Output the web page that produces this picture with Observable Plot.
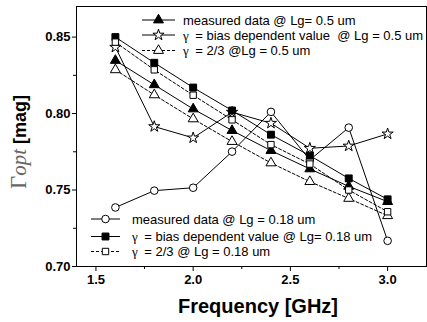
<!DOCTYPE html>
<html><head><meta charset="utf-8">
<script src="https://cdn.jsdelivr.net/npm/d3@7"></script>
<script src="https://cdn.jsdelivr.net/npm/@observablehq/plot@0.6"></script>
<style>body{margin:0;background:#fff}</style>
</head><body><div id="chart"></div>
<script>
const freq = [1.6, 1.8, 2.0, 2.2, 2.4, 2.6, 2.8, 3.0];
const measured05 = [0.8347, 0.8188, 0.8030, 0.7889, 0.7758, 0.7638, 0.7524, 0.7424];
const bias05 = [0.8434, 0.7915, 0.7841, 0.8009, 0.7937, 0.7773, 0.7788, 0.7867];
const twoThirds05 = [0.8286, 0.8122, 0.7965, 0.7817, 0.7677, 0.7555, 0.7445, 0.7332];
const measured018 = [0.7386, 0.7496, 0.7515, 0.7751, 0.8011, 0.7697, 0.7908, 0.7168];
const bias018 = [0.8500, 0.8332, 0.8170, 0.8020, 0.7862, 0.7725, 0.7576, 0.7439];
const twoThirds018 = [0.8467, 0.8286, 0.8120, 0.7959, 0.7797, 0.7670, 0.7500, 0.7358];
const xTicks = [1.5, 2.0, 2.5, 3.0];
const xMinor = [1.75, 2.25, 2.75];
const yTicks = [0.70, 0.75, 0.80, 0.85];
const yMinor = [0.725, 0.775, 0.825];
const legendTop = [
  ["measured data @ Lg= 0.5 um", null],
  ["= bias dependent value  @ Lg = 0.5 um", "γ"],
  ["= 2/3 @Lg = 0.5 um", "γ"]
];
const legendBottom = [
  ["measured data @ Lg = 0.18 um", null],
  ["= bias dependent value @ Lg= 0.18 um", "γ"],
  ["= 2/3 @ Lg = 0.18 um", "γ"]
];

const series = [
  {values: measured05, symbol: "triangle", fill: "black", dash: null, r: 3.7},
  {values: bias05, symbol: "star", fill: "white", dash: null, r: 3.5},
  {values: twoThirds05, symbol: "triangle", fill: "white", dash: "3,2", r: 3.7},
  {values: measured018, symbol: "circle", fill: "white", dash: null, r: 3.8},
  {values: bias018, symbol: "square", fill: "black", dash: null, r: 3.9},
  {values: twoThirds018, symbol: "square", fill: "white", dash: "3,2", r: 3.6}
];
const tables = series.map(s => freq.map((f, i) => ({f, v: s.values[i]})));

const marks = [];
series.forEach((s, k) => {
  marks.push(Plot.line(tables[k], {x: "f", y: "v", stroke: "black", strokeWidth: 1, strokeDasharray: s.dash}));
});
series.forEach((s, k) => {
  marks.push(Plot.dot(tables[k], {x: "f", y: "v", symbol: () => s.symbol, r: s.r, fill: s.fill, stroke: "black", strokeWidth: 1}));
});

const chart = Plot.plot({
  width: 427, height: 322,
  marginLeft: 76, marginRight: 1, marginTop: 6, marginBottom: 56,
  style: {fontFamily: "'Liberation Sans', Arial, sans-serif", fontSize: "13px", fontWeight: "bold", color: "black", background: "white"},
  x: {domain: [1.4, 3.2]},
  y: {domain: [0.70, 0.87]},
  marks: [
    Plot.frame({stroke: "black", strokeWidth: 1}),
    Plot.axisX(xTicks, {tickSize: 5, tickFormat: d3.format(".1f"), tickPadding: 3, label: null, fontSize: 13}),
    Plot.axisX(xMinor, {tickSize: 3, tickFormat: () => "", label: null}),
    Plot.axisY(yTicks, {tickSize: 4, tickFormat: d3.format(".2f"), tickPadding: 2, label: null, fontSize: 13}),
    Plot.axisY(yMinor, {tickSize: 3, tickFormat: () => "", label: null}),
    ...marks
  ]
});
document.getElementById("chart").appendChild(chart);

const svg = d3.select(chart);
// axis titles
svg.append("text").attr("x", 258).attr("y", 313).attr("text-anchor", "middle")
  .style("font-family", "'Liberation Sans', Arial, sans-serif").style("font-weight", "bold").style("font-size", "20px")
  .text("Frequency [GHz]");
const yl = svg.append("text").attr("transform", "translate(26,142) rotate(-90)").attr("text-anchor", "middle")
  .style("font-size", "18px");
yl.append("tspan").style("font-family", "'Liberation Serif', 'DejaVu Serif', serif").style("font-weight", "normal").style("fill", "#666").style("font-size", "23px").text("Γ");
yl.append("tspan").style("font-family", "'Liberation Serif', 'DejaVu Serif', serif").style("font-style", "italic").style("font-weight", "normal").style("fill", "#666").style("font-size", "21px").text("opt");
yl.append("tspan").style("font-family", "'Liberation Sans', Arial, sans-serif").style("font-weight", "bold").text(" [mag]");

// legends
function legend(items, idx, x0, x1, tx, ys) {
  const g = svg.append("g");
  items.forEach((it, j) => {
    const s = series[idx[j]];
    const y = ys[j];
    g.append("line").attr("x1", x0).attr("x2", x1).attr("y1", y).attr("y2", y)
      .attr("stroke", "black").attr("stroke-width", 1).attr("stroke-dasharray", s.dash);
    const sym = {triangle: d3.symbolTriangle, star: d3.symbolStar, circle: d3.symbolCircle, square: d3.symbolSquare}[s.symbol];
    g.append("path").attr("d", d3.symbol(sym, s.r * s.r * Math.PI)()).attr("transform", `translate(${(x0 + x1) / 2},${y})`)
      .attr("fill", s.fill).attr("stroke", "black");
    const t = g.append("text").attr("x", tx).attr("y", y).attr("dy", "0.35em").attr("text-anchor", "start")
      .style("font-family", "'Liberation Sans', Arial, sans-serif").style("font-weight", "normal").style("font-size", "13px")
      .style("white-space", "pre");
    if (it[1]) {
      t.append("tspan").style("font-family", "'Liberation Serif', serif").text(it[1] + "  ");
    }
    t.append("tspan").text(it[0]);
  });
}
legend(legendTop, [0, 1, 2], 142, 175, 183, [20, 35, 50.5]);
legend(legendBottom, [3, 4, 5], 91, 120, 132, [219, 236.5, 251.5]);
</script>
</body></html>
